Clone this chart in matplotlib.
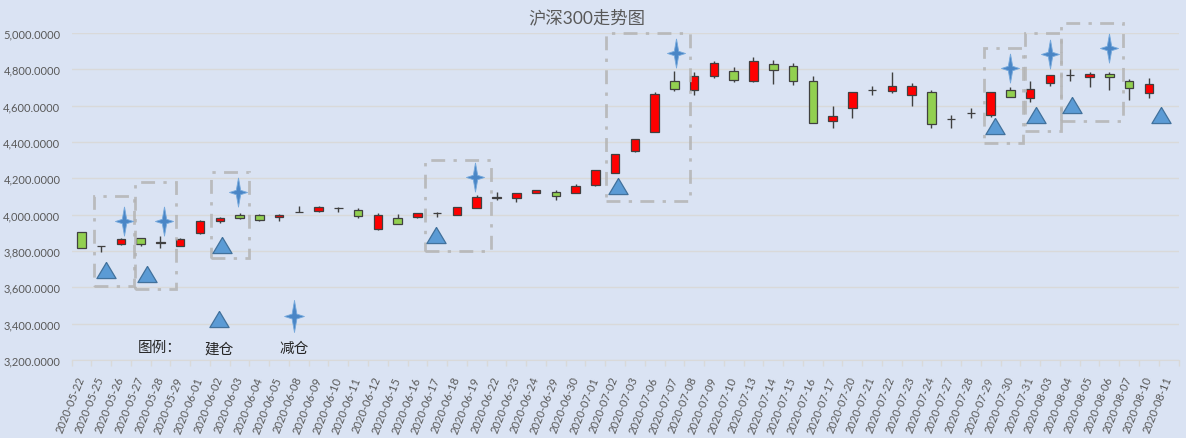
import matplotlib
matplotlib.use("Agg")
import matplotlib.pyplot as plt
import numpy as np
from matplotlib.patches import Rectangle
from matplotlib.ticker import FuncFormatter, FixedLocator

plt.rcParams['font.family'] = ['Lato', 'Noto Sans CJK SC', 'DejaVu Sans']

dates = ["2020-05-22", "2020-05-25", "2020-05-26", "2020-05-27", "2020-05-28", "2020-05-29",
         "2020-06-01", "2020-06-02", "2020-06-03", "2020-06-04", "2020-06-05", "2020-06-08",
         "2020-06-09", "2020-06-10", "2020-06-11", "2020-06-12", "2020-06-15", "2020-06-16",
         "2020-06-17", "2020-06-18", "2020-06-19", "2020-06-22", "2020-06-23", "2020-06-24",
         "2020-06-29", "2020-06-30", "2020-07-01", "2020-07-02", "2020-07-03", "2020-07-06",
         "2020-07-07", "2020-07-08", "2020-07-09", "2020-07-10", "2020-07-13", "2020-07-14",
         "2020-07-15", "2020-07-16", "2020-07-17", "2020-07-20", "2020-07-21", "2020-07-22",
         "2020-07-23", "2020-07-24", "2020-07-27", "2020-07-28", "2020-07-29", "2020-07-30",
         "2020-07-31", "2020-08-03", "2020-08-04", "2020-08-05", "2020-08-06", "2020-08-07",
         "2020-08-10", "2020-08-11"]

opens = [3903, 3826, 3840, 3870, 3845, 3829, 3897, 3963, 4000, 3996, 3986, 4016,
         4022, 4038, 4024, 3923, 3980, 3989, 4011, 4000, 4038, 4094, 4090, 4121,
         4125, 4121, 4165, 4232, 4349, 4457, 4734, 4685, 4762, 4789, 4734, 4828,
         4817, 4734, 4517, 4589, 4688, 4679, 4661, 4674, 4528, 4561, 4550, 4684,
         4644, 4727, 4771, 4756, 4773, 4734, 4672, np.nan]
highs = [3905, 3830, 3872, 3872, 3881, 3872, 3972, 3986, 4008, 4003, 4002, 4046,
         4048, 4041, 4035, 4009, 4004, 4009, 4013, 4042, 4106, 4124, 4120, 4138,
         4134, 4169, 4247, 4335, 4417, 4673, 4791, 4788, 4848, 4815, 4870, 4853,
         4835, 4765, 4597, 4676, 4706, 4784, 4725, 4685, 4550, 4585, 4677, 4700,
         4736, 4769, 4802, 4784, 4787, 4747, 4750, np.nan]
lows = [3815, 3795, 3835, 3826, 3815, 3826, 3895, 3952, 3978, 3967, 3965, 4015,
        4013, 4016, 3980, 3917, 3948, 3980, 3985, 3996, 4036, 4083, 4072, 4117,
        4083, 4119, 4156, 4230, 4344, 4455, 4681, 4659, 4751, 4729, 4733, 4719,
        4714, 4504, 4479, 4530, 4656, 4670, 4598, 4475, 4475, 4530, 4539, 4645,
        4619, 4710, 4738, 4705, 4686, 4631, 4642, np.nan]
closes = [3818, 3826.5, 3868, 3840, 3852, 3866, 3965, 3982, 3980, 3972, 4000, 4017,
          4040, 4038.5, 3991, 3998, 3950, 4007, 4011.5, 4040, 4096, 4094.5, 4118, 4134,
          4105, 4156, 4245, 4333, 4415, 4663, 4690, 4765, 4833, 4743, 4844, 4798,
          4738, 4506, 4541, 4674, 4688.5, 4707, 4707, 4497, 4528.5, 4561.5, 4675, 4650,
          4690, 4767, 4771.5, 4773, 4756, 4699, 4718, np.nan]

# trade signals (category position, price level)
buy_x = [1.25, 3.31, 7.1, 17.94, 27.16, 46.2, 48.3, 50.1, 54.6]
buy_y = [3698, 3673, 3833, 3888, 4158, 4486, 4551, 4606, 4551]
sell_x = [2.16, 4.2, 7.94, 19.9, 30.1, 47.0, 49.0, 52.0]
sell_y = [3967, 3967, 4123, 4207, 4891, 4807, 4884, 4919]

# highlighted trade windows
box_x0 = [0.66, 2.73, 6.55, 17.37, 26.54, 45.66, 47.72, 49.57]
box_x1 = [2.67, 4.79, 8.50, 20.71, 30.79, 47.65, 49.54, 52.68]
box_y0 = [3606, 3591, 3761, 3802, 4077, 4394, 4461, 4517]
box_y1 = [4104, 4178, 4236, 4303, 5000, 4916, 5000, 5055]

title = "沪深300走势图"
legend_title = "图例："
buy_label = "建仓"
sell_label = "减仓"
legend_title_pos = (2.87, 3271)
legend_buy = (6.97, 3427)
legend_sell = (10.75, 3440)

BG = "#dae3f3"
TXT = "#595959"
RED = "#ff0000"
GREEN = "#92d050"
EDGE = "#404040"
BLUE = "#5b9bd5"
BLUE_EDGE = "#41719c"
STAR = "#4a86c6"
STAR_EDGE = "#76a9dc"

fig = plt.figure(figsize=(11.86, 4.39), dpi=100, facecolor=BG)
ax = fig.add_axes([71.5 / 1186, 1 - 361 / 439, (1178.5 - 71.5) / 1186, (361 - 34) / 439])
ax.set_facecolor(BG)

x = np.arange(len(dates))
o = np.array(opens, float)
h = np.array(highs, float)
l = np.array(lows, float)
c = np.array(closes, float)
valid = ~np.isnan(o)
up = (c >= o) & valid
colors = [RED if u else GREEN for u in up]

ax.vlines(x[valid], l[valid], h[valid], color=EDGE, linewidth=1.0, zorder=2)
ax.bar(x[valid], np.abs(c - o)[valid], bottom=np.minimum(o, c)[valid], width=0.43,
       color=np.array(colors)[valid], edgecolor=EDGE, linewidth=0.9, zorder=3)

# boxes
for x0, x1, y0, y1 in zip(box_x0, box_x1, box_y0, box_y1):
    r = Rectangle((x0, y0), x1 - x0, y1 - y0, fill=False, edgecolor="#b4b4b4",
                  linewidth=2.0, linestyle=(0, (5, 3, 1.2, 3)), alpha=0.85,
                  zorder=4, clip_on=False)
    ax.add_patch(r)

tri = [(0, 0.84), (-1, -0.84), (1, -0.84), (0, 0.84)]
a = 0.15
star = [(0, 1), (a, a), (0.62, 0), (a, -a), (0, -1), (-a, -a), (-0.62, 0), (-a, a), (0, 1)]

ax.plot(buy_x, buy_y, linestyle="none", marker=tri, markersize=13.8,
        markerfacecolor=BLUE, markeredgecolor=BLUE_EDGE, markeredgewidth=0.9, zorder=5)
ax.plot(sell_x, sell_y, linestyle="none", marker=star, markersize=21,
        markerfacecolor=STAR, markeredgecolor=STAR_EDGE, markeredgewidth=0.6, zorder=5)
# legend
ax.plot([legend_buy[0]], [legend_buy[1]], linestyle="none", marker=tri, markersize=13.8,
        markerfacecolor=BLUE, markeredgecolor=BLUE_EDGE, markeredgewidth=0.9, zorder=5)
ax.plot([legend_sell[0]], [legend_sell[1]], linestyle="none", marker=star, markersize=23,
        markerfacecolor=STAR, markeredgecolor=STAR_EDGE, markeredgewidth=0.6, zorder=5)
ax.text(legend_title_pos[0], legend_title_pos[1], legend_title, ha="left", va="center",
        fontsize=10.5, color="#262626")
ax.text(legend_buy[0], 3265, buy_label, ha="center", va="center", fontsize=10.5, color="#262626")
ax.text(legend_sell[0], 3265, sell_label, ha="center", va="center", fontsize=10.5, color="#262626")

ax.set_xlim(-0.5, len(dates) - 0.5)
ax.set_ylim(3200, 5000)
ax.set_yticks(np.arange(3200, 5001, 200))
ax.yaxis.set_major_formatter(FuncFormatter(lambda v, p: f"{v:,.4f}"))
ax.grid(axis="y", color="#d9d9d9", linewidth=1.0, zorder=0)
ax.set_axisbelow(True)
ax.tick_params(axis="y", length=0, pad=8, labelsize=8, labelcolor=TXT)

ax.set_xticks(x)
ax.set_xticklabels(dates, rotation=68, ha="right", va="center", rotation_mode="anchor")
ax.xaxis.set_minor_locator(FixedLocator(np.arange(-0.5, len(dates), 1)))
ax.tick_params(axis="x", which="major", length=0, pad=12, labelsize=8, labelcolor=TXT)
ax.tick_params(axis="x", which="minor", length=4, color="#d9d9d9", width=1)

for s in ["top", "right", "left"]:
    ax.spines[s].set_visible(False)
ax.spines["bottom"].set_color("#d9d9d9")

fig.text(587 / 1186, 1 - 18 / 439, title, ha="center", va="center", fontsize=12.5, color=TXT)

fig.savefig("out.png", dpi=100, facecolor=BG)
